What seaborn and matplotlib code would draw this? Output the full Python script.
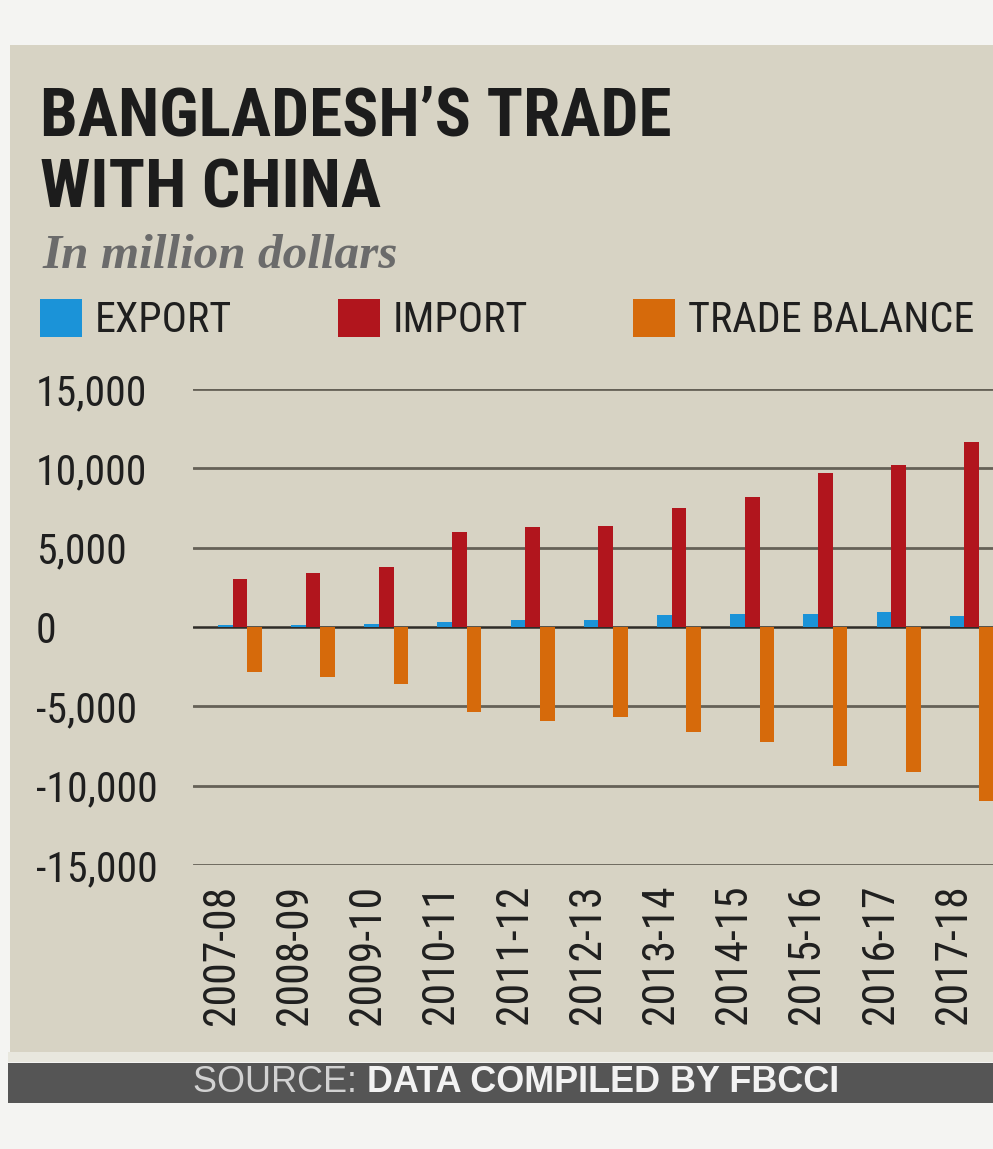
import matplotlib
matplotlib.use("Agg")
import matplotlib.pyplot as plt
import matplotlib.transforms as mtransforms
from matplotlib.patches import Rectangle
from matplotlib import font_manager as fm
import seaborn as sns
import pandas as pd

# ---- data (million US$) ----
years = ["2007-08", "2008-09", "2009-10", "2010-11", "2011-12", "2012-13",
         "2013-14", "2014-15", "2015-16", "2016-17", "2017-18"]
export = [105, 97, 179, 319, 450, 458, 746, 791, 808, 949, 695]
imports = [3030, 3400, 3780, 5990, 6300, 6370, 7500, 8200, 9700, 10200, 11660]
balance = [-2840, -3150, -3600, -5370, -5900, -5680, -6620, -7250, -8760, -9140, -10970]
series_names = ["EXPORT", "IMPORT", "TRADE BALANCE"]
yticks = [-15000, -10000, -5000, 0, 5000, 10000, 15000]
ytick_labels = ["-15,000", "-10,000", "-5,000", "0", "5,000", "10,000", "15,000"]
title_lines = ["BANGLADESH\u2019S TRADE", "WITH CHINA"]
subtitle = "In million dollars"

df = pd.DataFrame({
    "year": years * 3,
    "series": [series_names[0]] * len(years) + [series_names[1]] * len(years) + [series_names[2]] * len(years),
    "value": export + imports + balance,
})

colors = ["#1b93d8", "#b1151d", "#d66a0b"]

sns.set_theme(style="white")
plt.rcParams["font.family"] = ["DejaVu Sans"]

# ---- font selection: prefer condensed / narrow faces if installed ----
def find_face(bold):
    cands = []
    for f in fm.fontManager.ttflist:
        name = (f.fname.split("/")[-1]).lower()
        if not (("condensed" in name) or ("narrow" in name) or ("cond" in name)):
            continue
        if "italic" in name or "oblique" in name:
            continue
        if "semicondensed" in name or "semi" in name or "extra" in name or "light" in name \
                or "thin" in name or "medium" in name or "black" in name:
            continue
        isbold = "bold" in name
        if isbold != bold:
            continue
        cands.append(f.fname)
    if not cands:
        return None
    pref = ["liberationsansnarrow", "robotocondensed", "opensans", "notosans", "dejavusans"]
    def key(p):
        n = p.split("/")[-1].lower().replace("-", "").replace("_", "")
        for i, pr in enumerate(pref):
            if n.startswith(pr):
                return i
        return len(pref)
    cands.sort(key=key)
    return cands[0]

reg_file = find_face(False)
bold_file = find_face(True)
fp_reg = fm.FontProperties(fname=reg_file) if reg_file else fm.FontProperties(family="Roboto")
fp_bold = fm.FontProperties(fname=bold_file) if bold_file else fm.FontProperties(family="Roboto", weight="bold")
fp_serif = fm.FontProperties(family=["Liberation Serif", "DejaVu Serif"], style="italic", weight="bold")
fp_src = fm.FontProperties(family=["Liberation Sans", "DejaVu Sans"])
fp_src_b = fm.FontProperties(family=["Liberation Sans", "DejaVu Sans"], weight="bold")

W, H = 993, 1149
fig = plt.figure(figsize=(W / 100, H / 100), dpi=100, facecolor="#f4f4f2")
renderer = fig.canvas.get_renderer()

def fx(px):
    return px / W

def fy(py):
    return 1 - py / H

def sized(fp, size):
    p = fp.copy()
    p.set_size(size)
    return p

def width_at(s, fp, size=20):
    t = fig.text(0, 0, s, fontproperties=sized(fp, size))
    w = t.get_window_extent(renderer).width
    t.remove()
    return w

def fit(s, fp, target, lo=0, hi=999):
    size = 20 * target / width_at(s, fp, 20)
    return min(max(size, lo), hi)

# background panel and source bar
fig.patches.append(Rectangle((fx(10), fy(1052)), 1, fy(45) - fy(1052), transform=fig.transFigure,
                             facecolor="#d7d3c4", edgecolor="none", zorder=-10))
fig.patches.append(Rectangle((fx(8), fy(1062)), 1, fy(1052) - fy(1062), transform=fig.transFigure,
                             facecolor="#e8e7de", edgecolor="none", zorder=-10))
fig.patches.append(Rectangle((fx(8), fy(1103)), 1, fy(1063) - fy(1103), transform=fig.transFigure,
                             facecolor="#555555", edgecolor="none", zorder=-10))

ax = fig.add_axes([fx(193), fy(865), fx(993) - fx(193), fy(389) - fy(865)])
ax.set_facecolor("none")

sns.barplot(data=df, x="year", y="value", hue="series", hue_order=series_names,
            palette=colors, width=0.6, saturation=1, ax=ax, legend=True, zorder=3,
            edgecolor="none", linewidth=0)

handles, labels = ax.get_legend_handles_labels()
if ax.get_legend() is not None:
    ax.get_legend().remove()

ax.set_xlim(-0.64, 10.29)
ax.set_ylim(-15000, 15000)
ax.set_yticks(yticks)
ax.set_yticklabels(ytick_labels)
ax.set_xlabel("")
ax.set_ylabel("")
for s in ax.spines.values():
    s.set_visible(False)
for yv in yticks:
    if yv == 0:
        continue
    ax.axhline(yv, color="#656157", lw=2.0, zorder=1)
ax.axhline(0, color="#2e2c28", lw=1.8, zorder=2)

# y tick labels: left-aligned near the panel edge
ysize = fit("15,000", fp_reg, 111, hi=40)
ax.tick_params(axis="y", length=0, pad=(193 - 36) * 0.72, labelcolor="#1f1f1f")
for t in ax.get_yticklabels():
    t.set_fontproperties(sized(fp_reg, ysize))
    t.set_horizontalalignment("left")

# x tick labels: vertical
xsize = fit("2007-08", fp_reg, 140, hi=40)
ax.tick_params(axis="x", length=0, pad=14, labelcolor="#1f1f1f", rotation=90)
offset = mtransforms.ScaledTranslation(-0.18, 0, fig.dpi_scale_trans)
for t in ax.get_xticklabels():
    t.set_fontproperties(sized(fp_reg, xsize))
    t.set_transform(t.get_transform() + offset)
    t.set_va("top")

# title & subtitle
tsize = fit(title_lines[0], fp_bold, 633, hi=60)
fig.text(fx(40), fy(135), title_lines[0], ha="left", va="baseline",
         fontproperties=sized(fp_bold, tsize), color="#1c1c1c")
fig.text(fx(40), fy(208), title_lines[1], ha="left", va="baseline",
         fontproperties=sized(fp_bold, tsize), color="#1c1c1c")
ssize = fit(subtitle, fp_serif, 356, hi=40)
fig.text(fx(42), fy(268), subtitle, ha="left", va="baseline",
         fontproperties=sized(fp_serif, ssize), color="#6b6b6b")

# legend (one per entry, positioned like the reference)
lsize = min(fit("EXPORT", fp_reg, 137, hi=42), fit("TRADE BALANCE", fp_reg, 297, hi=42))
leg_x = [40, 338, 633]
for h, lab, x in zip(handles, labels, leg_x):
    lp = sized(fp_reg, lsize)
    lg = fig.legend([h], [lab], loc="center left", bbox_to_anchor=(fx(x), fy(320)),
                    frameon=False, prop=lp, handlelength=42 / (lsize / 0.72),
                    handleheight=42 / (lsize / 0.72),
                    handletextpad=13 / (lsize / 0.72), borderpad=0, borderaxespad=0)
    for t in lg.get_texts():
        t.set_color("#1f1f1f")

# source line
srcsize = fit("SOURCE: DATA COMPILED BY FBCCI", fp_src_b, 647, hi=27)
t1 = fig.text(fx(193), fy(1083), "SOURCE: ", ha="left", va="center",
              fontproperties=sized(fp_src, srcsize), color="#d2d2d2")
bb = t1.get_window_extent(renderer)
fig.text(bb.x1 / W, fy(1083), "DATA COMPILED BY FBCCI", ha="left", va="center",
         fontproperties=sized(fp_src_b, srcsize), color="#f2f2f2")

fig.savefig("out.png", dpi=100, facecolor=fig.get_facecolor())
